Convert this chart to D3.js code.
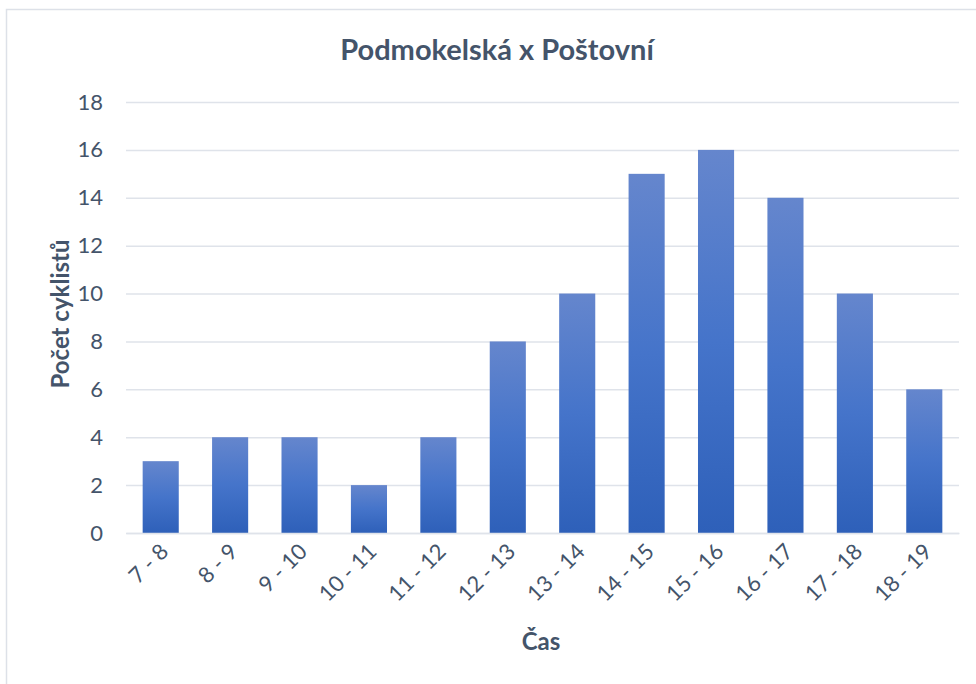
<!DOCTYPE html>
<html>
<head>
<meta charset="utf-8">
<script src="https://cdn.jsdelivr.net/npm/d3@7"></script>
<style>
	html, body { margin: 0; padding: 0; background: #fff; }
	text { font-family: Lato, "Open Sans", sans-serif; fill: #44546a; }
</style>
</head>
<body>
<div id="chart"></div>
<script>
// data
var categories = ['7 - 8', '8 - 9', '9 - 10', '10 - 11', '11 - 12', '12 - 13', '13 - 14', '14 - 15', '15 - 16', '16 - 17', '17 - 18', '18 - 19'];
var counts = [3, 4, 4, 2, 4, 8, 10, 15, 16, 14, 10, 6];
var yTicks = [0, 2, 4, 6, 8, 10, 12, 14, 16, 18];

var chartTitle = 'Podmokelská x Poštovní';
var yTitle = 'Počet cyklistů';
var xTitle = 'Čas';

var width = 976, height = 684;
var plot = {left: 126, right: 959, top: 102, bottom: 533};

var svg = d3.select('#chart').append('svg')
	.attr('width', width)
	.attr('height', height);

// chart frame
svg.append('rect')
	.attr('x', 6.5)
	.attr('y', 9.5)
	.attr('width', 1000)
	.attr('height', 1000)
	.attr('fill', '#fff')
	.attr('stroke', '#dde1e8')
	.attr('stroke-width', 1.5);

var grad = svg.append('defs').append('linearGradient')
	.attr('id', 'barGrad')
	.attr('x1', 0).attr('y1', 0)
	.attr('x2', 0).attr('y2', 1);
grad.append('stop').attr('offset', '0%').attr('stop-color', '#6586cd');
grad.append('stop').attr('offset', '50%').attr('stop-color', '#4574ca');
grad.append('stop').attr('offset', '100%').attr('stop-color', '#2e60b9');

var x = d3.scaleBand()
	.domain(categories)
	.range([plot.left, plot.right])
	.paddingInner(0.48)
	.paddingOuter(0.24);

var y = d3.scaleLinear()
	.domain([0, 18])
	.range([plot.bottom, plot.top]);

// gridlines
var yAxis = svg.append('g')
	.attr('transform', 'translate(' + plot.left + ',0)')
	.call(d3.axisLeft(y).tickValues(yTicks).tickSize(-(plot.right - plot.left)).tickPadding(23));
yAxis.select('.domain').remove();
yAxis.selectAll('.tick line')
	.attr('stroke', '#dfe3ea')
	.attr('stroke-width', 1.5);
yAxis.selectAll('.tick text')
	.style('font-size', '22px')
	.attr('fill', '#44546a');

// bars
svg.append('g').selectAll('rect')
	.data(counts)
	.enter().append('rect')
	.attr('x', function(d, i) { return x(categories[i]); })
	.attr('y', function(d) { return y(d); })
	.attr('width', x.bandwidth())
	.attr('height', function(d) { return y(0) - y(d); })
	.attr('fill', 'url(#barGrad)');

// x axis
var xAxis = svg.append('g')
	.attr('transform', 'translate(0,' + plot.bottom + ')')
	.call(d3.axisBottom(x).tickSize(0));
xAxis.select('.domain')
	.attr('stroke', '#dfe3ea')
	.attr('stroke-width', 1.5);
xAxis.selectAll('.tick text')
	.style('font-size', '22px')
	.attr('fill', '#44546a')
	.attr('text-anchor', 'end')
	.attr('dy', null)
	.attr('y', 0)
	.attr('transform', 'translate(9,20) rotate(-45)');

// titles
svg.append('text')
	.attr('x', 497)
	.attr('y', 60)
	.attr('text-anchor', 'middle')
	.style('font-size', '29px')
	.style('font-weight', 'bold')
	.text(chartTitle);

svg.append('text')
	.attr('transform', 'translate(69,314) rotate(-90)')
	.attr('text-anchor', 'middle')
	.style('font-size', '24px')
	.style('font-weight', 'bold')
	.text(yTitle);

svg.append('text')
	.attr('x', 541)
	.attr('y', 650)
	.attr('text-anchor', 'middle')
	.style('font-size', '24px')
	.style('font-weight', 'bold')
	.text(xTitle);
</script>
</body>
</html>
